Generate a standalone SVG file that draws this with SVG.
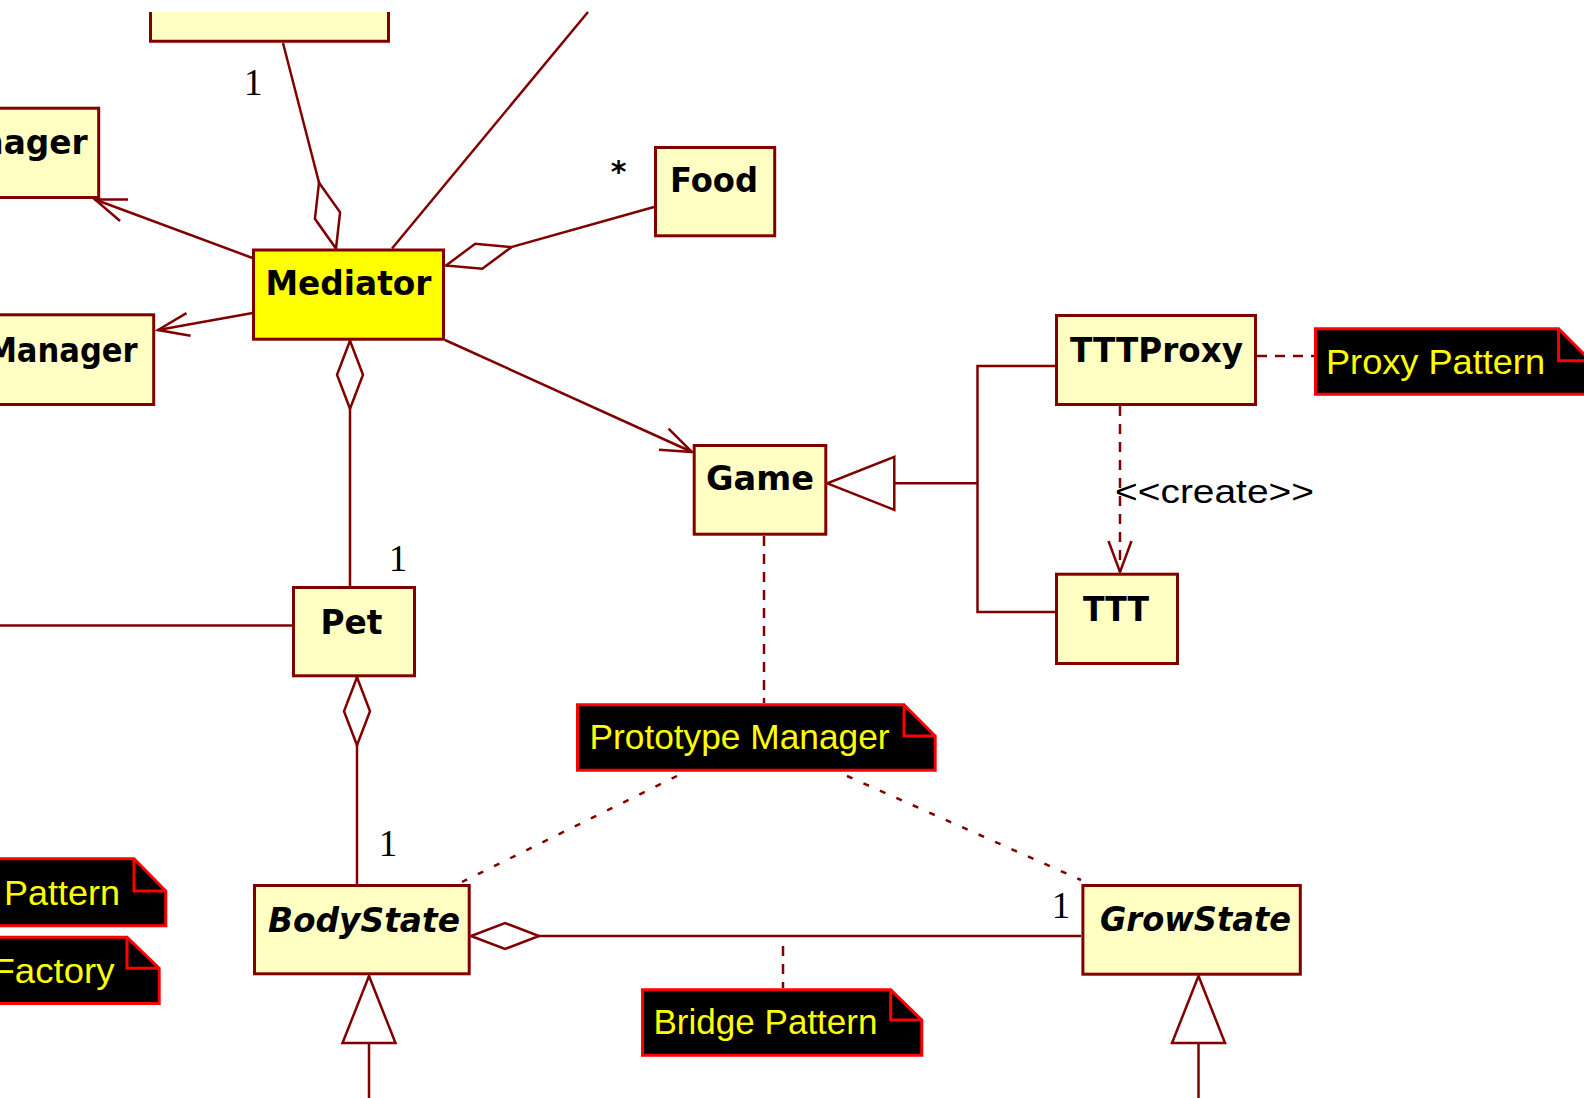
<svg xmlns="http://www.w3.org/2000/svg" width="1584" height="1098" viewBox="0 0 1584 1098">
  <style>
    .cls { fill: #FFFFC4; stroke: #800000; stroke-width: 3; }
    .hot { fill: #FFFF00; stroke: #800000; stroke-width: 3; }
    .name { font-family: "DejaVu Sans", Verdana, sans-serif; font-weight: bold; font-size: 33px; fill: #000; }
    .abstract { font-style: italic; }
    .note { fill: #000; stroke: #FF0000; stroke-width: 3; stroke-linejoin: miter; }
    .fold { fill: none; stroke: #FF0000; stroke-width: 3; }
    .notetext { font-family: "Liberation Sans", Arial, sans-serif; font-size: 35px; fill: #FFFF00; }
    .edge { fill: none; stroke: #800000; stroke-width: 2.5; }
    .dash { stroke-dasharray: 10 8; }
    .dot { stroke-dasharray: 6 12; }
    .mult { font-family: "Liberation Serif", "Times New Roman", serif; font-size: 37px; fill: #000; text-anchor: middle; }
    .star { font-family: "DejaVu Sans", sans-serif; font-weight: bold; font-size: 30px; fill: #000; text-anchor: middle; }
    .stereo { font-family: "Liberation Sans", Arial, sans-serif; font-size: 33px; fill: #000; }
  </style>
  <defs>
    <marker id="diamond" markerUnits="userSpaceOnUse" orient="auto" viewBox="-80 -20 90 40" refX="0" refY="0" markerWidth="90" markerHeight="40" overflow="visible">
      <path d="M0,0 L-34,-13 L-68,0 L-34,13 Z" fill="#FFFFFF" stroke="#800000" stroke-width="2.5"/>
    </marker>
    <marker id="triangle" markerUnits="userSpaceOnUse" orient="auto" viewBox="-80 -30 90 60" refX="0" refY="0" markerWidth="90" markerHeight="60" overflow="visible">
      <path d="M0,0 L-67,-26.5 L-67,26.5 Z" fill="#FFFFFF" stroke="#800000" stroke-width="2.5"/>
    </marker>
    <marker id="open" markerUnits="userSpaceOnUse" orient="auto" viewBox="-40 -20 50 40" refX="0" refY="0" markerWidth="50" markerHeight="40" overflow="visible">
      <path d="M-31,-11.5 L0,0 L-31,11.5" fill="none" stroke="#800000" stroke-width="2.5"/>
    </marker>
  </defs>

  <rect x="0" y="0" width="1584" height="1098" fill="#FFFFFF"/>

  <!-- connectors -->
  <g id="connectors">
    <path class="edge" d="M283,43 L336,248.5" marker-end="url(#diamond)"/>
    <path class="edge" d="M392,248.5 L588,12"/>
    <path class="edge" d="M252.6,258 L95,199.5" marker-end="url(#open)"/>
    <path class="edge" d="M252.6,313 L158,330" marker-end="url(#open)"/>
    <path class="edge" d="M654,207 L446,265.5" marker-end="url(#diamond)"/>
    <path class="edge" d="M445,340 L692,452" marker-end="url(#open)"/>
    <path class="edge" d="M350,586 L350,340.7" marker-end="url(#diamond)"/>
    <path class="edge" d="M357,884 L357,677.3" marker-end="url(#diamond)"/>
    <path class="edge" d="M0,625.5 L292,625.5"/>
    <path class="edge" d="M977.5,483.3 L827.3,483.3" marker-end="url(#triangle)"/>
    <path class="edge" d="M1055,366 L977.5,366 L977.5,612 L1055,612"/>
    <path class="edge dash" d="M1120,406 L1120,572" marker-end="url(#open)"/>
    <path class="edge dash" d="M1257,356 L1314,356"/>
    <path class="edge dash" d="M764,536 L764,703"/>
    <path class="edge dot" d="M677,776 L462,882"/>
    <path class="edge dot" d="M847,776 L1081,880"/>
    <path class="edge" d="M1081,936 L471,936" marker-end="url(#diamond)"/>
    <path class="edge dash" d="M783,946 L783,988"/>
    <path class="edge" d="M369,1098 L369,976" marker-end="url(#triangle)"/>
    <path class="edge" d="M1198.5,1098 L1198.5,976" marker-end="url(#triangle)"/>

    <text class="mult" x="253.3" y="95">1</text>
    <text class="star" x="618.7" y="182">*</text>
    <text class="mult" x="398" y="571">1</text>
    <text class="mult" x="388" y="856">1</text>
    <text class="mult" x="1061" y="918">1</text>
    <text class="stereo" x="1115" y="503" textLength="199" lengthAdjust="spacingAndGlyphs">&lt;&lt;create&gt;&gt;</text>
  </g>

  <!-- classes -->
  <g id="top-class">
    <rect x="149" y="12" width="241" height="30.7" fill="#FFFFC4"/>
    <path d="M150.5,12 V41.2 H388.5 V12" fill="none" stroke="#800000" stroke-width="3"/>
  </g>
  <g id="nager">
    <rect class="cls" x="-8.5" y="108.2" width="107.2" height="89.3"/>
    <text class="name" x="-19.7" y="153.5" textLength="107.4" lengthAdjust="spacingAndGlyphs">nager</text>
  </g>
  <g id="manager">
    <rect class="cls" x="-8.5" y="314.8" width="162.2" height="89.7"/>
    <text class="name" x="-13.6" y="361.7" textLength="151.3" lengthAdjust="spacingAndGlyphs">Manager</text>
  </g>
  <g id="mediator">
    <rect class="hot" x="253.5" y="250" width="190" height="89.2"/>
    <text class="name" x="265.5" y="295" textLength="166" lengthAdjust="spacingAndGlyphs">Mediator</text>
  </g>
  <g id="food">
    <rect class="cls" x="655.5" y="147.5" width="119.2" height="88.3"/>
    <text class="name" x="670" y="192" textLength="88" lengthAdjust="spacingAndGlyphs">Food</text>
  </g>
  <g id="game">
    <rect class="cls" x="694.2" y="445.5" width="131.6" height="88.7"/>
    <text class="name" x="706" y="490" textLength="108" lengthAdjust="spacingAndGlyphs">Game</text>
  </g>
  <g id="tttproxy">
    <rect class="cls" x="1056.5" y="315.5" width="199" height="89"/>
    <text class="name" x="1070" y="362" textLength="173" lengthAdjust="spacingAndGlyphs">TTTProxy</text>
  </g>
  <g id="ttt">
    <rect class="cls" x="1056.5" y="574.2" width="121" height="89.3"/>
    <text class="name" x="1083" y="621" textLength="66" lengthAdjust="spacingAndGlyphs">TTT</text>
  </g>
  <g id="pet">
    <rect class="cls" x="293.5" y="587.5" width="121" height="88.3"/>
    <text class="name" x="320.5" y="634" textLength="62" lengthAdjust="spacingAndGlyphs">Pet</text>
  </g>
  <g id="bodystate">
    <rect class="cls" x="254.5" y="885.5" width="214.7" height="88.3"/>
    <text class="name abstract" x="268" y="932" textLength="192" lengthAdjust="spacingAndGlyphs">BodyState</text>
  </g>
  <g id="growstate">
    <rect class="cls" x="1082.9" y="885.5" width="217.4" height="88.7"/>
    <text class="name abstract" x="1100" y="931" textLength="191" lengthAdjust="spacingAndGlyphs">GrowState</text>
  </g>

  <!-- notes -->
  <g id="note-proxy">
    <path class="note" d="M1315.5,328.8 H1558.6 L1592,362 V394.2 H1315.5 Z"/>
    <path class="fold" d="M1558.6,328.8 V360.7 H1592"/>
    <text class="notetext" x="1326" y="374" textLength="219" lengthAdjust="spacingAndGlyphs">Proxy Pattern</text>
  </g>
  <g id="note-prototype">
    <path class="note" d="M577.5,704.8 H904 L935.2,736 V770.2 H577.5 Z"/>
    <path class="fold" d="M904,704.8 V736 H935.2"/>
    <text class="notetext" x="589.5" y="749" textLength="300" lengthAdjust="spacingAndGlyphs">Prototype Manager</text>
  </g>
  <g id="note-bridge">
    <path class="note" d="M642.5,989.8 H890.7 L921.8,1020 V1055.2 H642.5 Z"/>
    <path class="fold" d="M890.7,989.8 V1020 H921.8"/>
    <text class="notetext" x="653.5" y="1034" textLength="224" lengthAdjust="spacingAndGlyphs">Bridge Pattern</text>
  </g>
  <g id="note-pattern">
    <path class="note" d="M-10,858.8 H134 L165.8,891 V925.8 H-10 Z"/>
    <path class="fold" d="M134,858.8 V891 H165.8"/>
    <text class="notetext" x="4" y="905" textLength="116" lengthAdjust="spacingAndGlyphs">Pattern</text>
  </g>
  <g id="note-factory">
    <path class="note" d="M-10,937.2 H127 L159.2,968.3 V1003.5 H-10 Z"/>
    <path class="fold" d="M127,937.2 V968.3 H159.2"/>
    <text class="notetext" x="-7.5" y="983" textLength="122" lengthAdjust="spacingAndGlyphs">Factory</text>
  </g>
</svg>
